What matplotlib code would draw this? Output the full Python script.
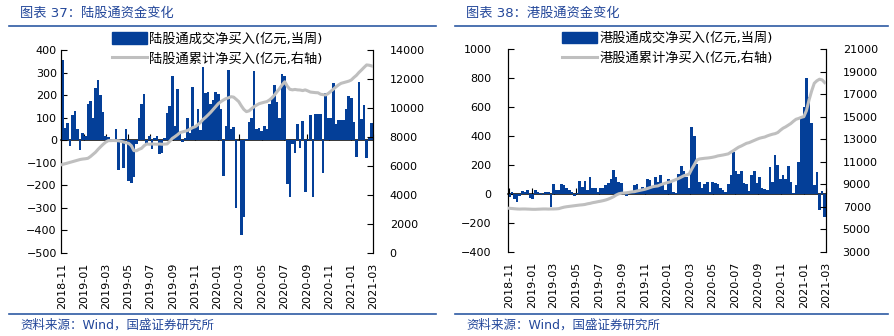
import pandas as pd
import matplotlib
matplotlib.use("Agg")
import matplotlib.pyplot as plt
import matplotlib.dates as mdates
from matplotlib.lines import Line2D
from matplotlib.patches import Patch

plt.rcParams["font.family"] = ["DejaVu Sans", "Noto Sans CJK SC"]

# weekly data, first week ending 2018-11-02
first_week = "2018-11-02"

# 陆股通 weekly net buy (亿元) and cumulative (亿元)
north_weekly = [
    355, 55, 78, -25, 110, 130, 50, -45, 30, 20,
    160, 175, 100, 230, 265, 200, 125, 20, 15, 5,
    0, 50, -130, 5, -125, 50, -180, -190, -165, -15,
    100, 160, 205, -15, 20, -40, 10, 20, -60, -55,
    10, 120, 150, 285, 65, 225, 30, -10, 10, 100,
    30, 235, 60, 140, 45, 325, 210, 215, 160, 180,
    215, 205, 140, -160, 65, 310, 50, 60, -300, 0,
    -420, -340, 5, 80, 100, 305, 50, 55, 40, 65,
    50, 160, 185, 245, 170, 100, 295, 285, -195, -250,
    -15, -55, 70, -35, 85, -230, 5, 110, -250, 115,
    115, 115, -145, 210, 100, 100, 255, 70, 90, 90,
    90, 140, 195, 185, 80, -75, 260, 95, 155, -80,
    10, 75,
]
north_cum = [
    6100, 6150, 6200, 6250, 6300, 6350, 6400, 6450, 6480, 6500,
    6530, 6650, 6800, 6950, 7150, 7330, 7500, 7650, 7750, 7750,
    7760, 7750, 7740, 7700, 7650, 7600, 7560, 7400, 7060, 7050,
    7150, 7220, 7400, 7520, 7500, 7520, 7510, 7500, 7520, 7500,
    7510, 7520, 7700, 7900, 8020, 8150, 8300, 8350, 8400, 8450,
    8550, 8650, 8710, 8850, 9000, 9200, 9350, 9520, 9700, 9900,
    10100, 10300, 10440, 10550, 10650, 10700, 10780, 10750, 10600, 10440,
    10150, 9900, 9750, 9800, 9950, 10090, 10200, 10300, 10350, 10400,
    10440, 10550, 10700, 10900, 11130, 11350, 11600, 11810, 11500, 11290,
    11250, 11280, 11250, 11240, 11200, 11250, 11180, 11100, 11080, 11060,
    11050, 10950, 10920, 10900, 11000, 11150, 11300, 11450, 11590, 11700,
    11750, 11800, 11850, 11930, 12100, 12250, 12450, 12620, 12800, 12970,
    12950, 12900,
]

# 港股通 weekly net buy (亿元) and cumulative (亿元)
south_weekly = [
    -25, 15, -35, -55, -15, 20, 15, 25, -30, -35,
    30, 15, 5, -5, 10, 15, -90, 65, 25, 25,
    70, 60, 40, 30, 15, -15, 5, 90, 45, 90,
    25, 115, 40, 40, 10, 40, 40, 60, 75, 100,
    165, 115, 80, 75, 0, -15, 5, 10, 60, 70,
    20, 50, 40, 100, 95, 50, 115, 80, 130, 60,
    25, 100, 80, 10, 5, 135, 195, 160, 120, 40,
    460, 400, 205, 80, 40, 70, 80, 15, 85, 75,
    65, 40, 30, 15, 70, 130, 290, 155, 135, 160,
    75, 65, 20, 130, 160, 75, 115, 40, 35, 30,
    185, 80, 270, 200, 100, 130, 100, 195, 80, 5,
    60, 220, 530, 600, 800, 670, 490, 60, 150, -115,
    20, -160,
]
south_cum = [
    6860, 6840, 6820, 6800, 6790, 6800, 6800, 6790, 6780, 6770,
    6770, 6780, 6790, 6800, 6800, 6790, 6800, 6800, 6810, 6830,
    6900, 6960, 7000, 7030, 7060, 7090, 7120, 7150, 7170, 7200,
    7260, 7300, 7360, 7400, 7450, 7490, 7540, 7600, 7680, 7780,
    7890, 8040, 8150, 8200, 8220, 8240, 8280, 8320, 8340, 8400,
    8450, 8500, 8550, 8620, 8700, 8780, 8820, 8850, 8950, 9030,
    9100, 9170, 9230, 9330, 9420, 9520, 9640, 9760, 9820, 9900,
    10350, 10750, 11160, 11250, 11280, 11310, 11330, 11360, 11400, 11450,
    11520, 11560, 11600, 11650, 11700, 11850, 11990, 12150, 12300, 12400,
    12520, 12640, 12700, 12800, 12900, 13000, 13090, 13150, 13200, 13300,
    13380, 13450, 13500, 13600, 13800, 13980, 14100, 14250, 14400, 14600,
    14780, 14850, 14950, 15010, 15550, 16500, 17300, 17980, 18200, 18340,
    18280, 18040,
]

tick_dates = pd.date_range("2018-11-01", "2021-03-01", freq="2MS")
tick_labels = [d.strftime("%Y-%m") for d in tick_dates]

BLUE = "#043F98"
GREY = "#BFBFBF"
TEXT_BLUE = "#23479A"
RULE_BLUE = "#2E5AA3"

fig = plt.figure(figsize=(8.94, 3.36), dpi=100)
W, H = 894, 336


def panel(px_left, px_right, px_top, px_bottom, weekly, cum, ylim, ystep, y2lim, y2step,
          bar_label, line_label, lpad, rpad, legend_x):
    ax = fig.add_axes([px_left / W, 1 - px_bottom / H,
                       (px_right - px_left) / W, (px_bottom - px_top) / H])
    x = mdates.date2num(pd.date_range(first_week, periods=len(weekly), freq="7D"))
    ax.bar(x, weekly, width=7.0, color=BLUE, linewidth=0, zorder=2)
    ax.set_xlim(x[0] - 3.5, x[-1] + 3.5)
    ax.set_ylim(*ylim)
    ax.set_yticks(range(ylim[0], ylim[1] + 1, ystep))
    ticks = mdates.date2num(tick_dates)
    ax.set_xticks(ticks)
    ax.set_xticklabels(tick_labels, rotation=90, fontsize=8)
    ax.tick_params(axis="x", length=0, pad=7)
    ax.tick_params(axis="y", direction="in", length=4, labelsize=8, pad=lpad)
    ax.spines["top"].set_visible(False)
    ax.spines["bottom"].set_visible(False)

    # category axis crossing at zero, ticks pointing up
    zero = (0 - ylim[0]) / (ylim[1] - ylim[0])
    sec = ax.secondary_xaxis(zero)
    sec.set_alignment("bottom")
    sec.set_xticks(ticks)
    sec.tick_params(direction="in", length=4, labelbottom=False, labeltop=False)
    sec.spines["bottom"].set_linewidth(1.1)

    ax2 = ax.twinx()
    ax2.plot(x, cum, color=GREY, lw=2.2, zorder=3)
    ax2.set_ylim(*y2lim)
    ax2.set_yticks(range(y2lim[0], y2lim[1] + 1, y2step))
    ax2.tick_params(axis="y", direction="in", length=4, labelsize=8, pad=rpad)
    ax2.spines["top"].set_visible(False)
    ax2.spines["bottom"].set_visible(False)

    handles = [Patch(color=BLUE, label=bar_label),
               Line2D([0], [0], color=GREY, lw=2.2, label=line_label)]
    ax2.legend(handles=handles, loc="upper center", bbox_to_anchor=(legend_x, 1.12),
               frameon=False, fontsize=9.5, borderpad=0, handlelength=2.7,
               handleheight=1.0, handletextpad=0.15, labelspacing=0.5)
    return ax


panel(61, 373, 50, 253, north_weekly, north_cum, (-500, 400), 100, (0, 14000), 2000,
      "陆股通成交净买入(亿元,当周)", "陆股通累计净买入(亿元,右轴)", 3, 12, 0.5)
panel(508, 826, 49.3, 251.7, south_weekly, south_cum, (-400, 1000), 200, (3000, 21000), 2000,
      "港股通成交净买入(亿元,当周)", "港股通累计净买入(亿元,右轴)", 12, 12, 0.5)

# headers and footers
for x0, x1, title in [(9, 436, "图表 37：陆股通资金变化"), (455, 888, "图表 38：港股通资金变化")]:
    fig.text((x0 + 11) / W, 1 - 13 / H, title, color=TEXT_BLUE, fontsize=9.5, va="center")
    fig.add_artist(Line2D([x0 / W, x1 / W], [1 - 25.5 / H] * 2, color=RULE_BLUE, lw=1.2))
    fig.add_artist(Line2D([x0 / W, x1 / W], [1 - 314 / H] * 2, color=RULE_BLUE, lw=1.2))
    fig.text((x0 + 11) / W, 1 - 325 / H, "资料来源：Wind，国盛证券研究所",
             color=TEXT_BLUE, fontsize=9, va="center")

plt.savefig("out.png", dpi=100)
